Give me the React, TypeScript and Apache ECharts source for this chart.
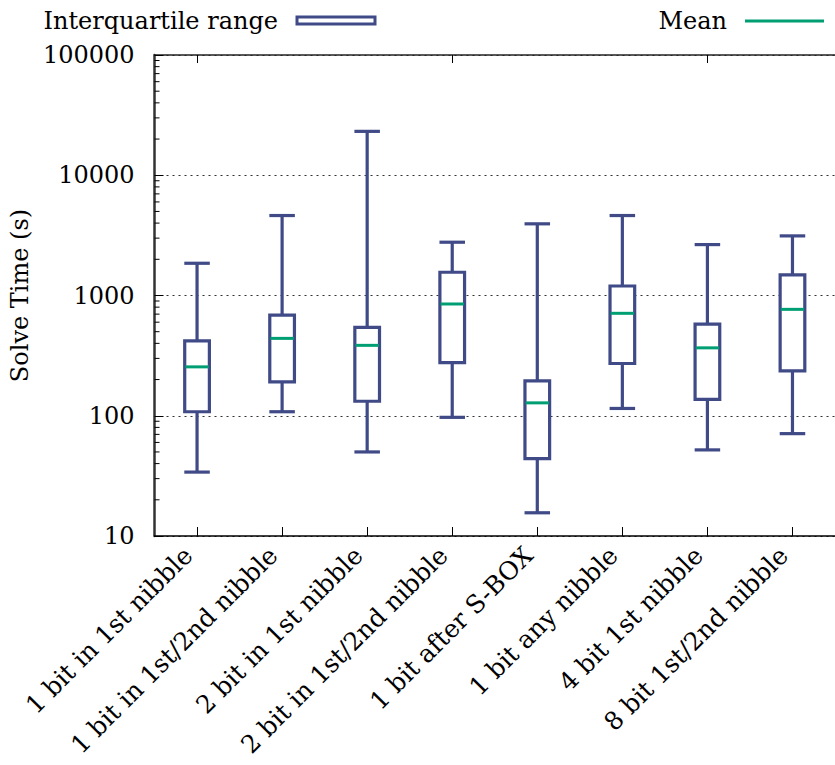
import React, { useEffect, useRef } from "react";
import * as echarts from "echarts";

const categories = [
  "1 bit in 1st nibble",
  "1 bit in 1st/2nd nibble",
  "2 bit in 1st nibble",
  "2 bit in 1st/2nd nibble",
  "1 bit after S-BOX",
  "1 bit any nibble",
  "4 bit 1st nibble",
  "8 bit 1st/2nd nibble",
];
const minValues = [34, 108, 50, 97, 15.6, 115, 52, 71];
const q1Values = [108, 191, 132, 277, 44, 272, 137, 236];
const meanValues = [255, 440, 385, 850, 128, 711, 367, 767];
const q3Values = [420, 688, 543, 1561, 195, 1200, 579, 1482];
const maxValues = [1854, 4624, 23174, 2774, 3945, 4624, 2651, 3131];

const yTickLabels = ["10", "100", "1000", "10000", "100000"];
const minorMultipliers = [2, 3, 4, 5, 6, 7, 8, 9];
const minorDecades = [10, 100, 1000, 10000];

const NAVY = "#3f4a87";
const GREEN = "#009e73";
const FONT = "'DejaVu Serif', 'Liberation Serif', serif";
const FS = 24;
const FS_X = 25;

export default function App() {
  const ref = useRef<HTMLDivElement>(null);
  useEffect(() => {
    if (!ref.current) return;
    const chart = echarts.init(ref.current, null, { renderer: "svg" });
    const boxData = categories.map((_, i) => [
      i,
      minValues[i],
      q1Values[i],
      meanValues[i],
      q3Values[i],
      maxValues[i],
    ]);
    const minorData: number[][] = [];
    minorDecades.forEach((d) => minorMultipliers.forEach((m) => minorData.push([0, d * m])));

    const option: any = {
      animation: false,
      backgroundColor: "#ffffff",
      textStyle: { fontFamily: FONT },
      grid: { left: 148, top: 55, right: -5, bottom: 229, containLabel: false },
      xAxis: [
        {
          type: "category",
          data: categories,
          position: "bottom",
          axisLine: { show: true, lineStyle: { color: "#000", width: 1.5 } },
          axisTick: { show: true, inside: true, length: 9, alignWithLabel: true, lineStyle: { color: "#000", width: 1 } },
          axisLabel: {
            interval: 0,
            rotate: 45,
            margin: 24,
            verticalAlign: "bottom",
            fontFamily: FONT,
            fontSize: FS_X,
            color: "#000",
          },
          splitLine: { show: false },
        },
        {
          type: "category",
          data: categories,
          position: "top",
          axisLine: { show: true, lineStyle: { color: "#222", width: 1.5 } },
          axisTick: { show: true, inside: true, length: 8, alignWithLabel: true, lineStyle: { color: "#000", width: 1 } },
          axisLabel: { show: false },
          splitLine: { show: false },
        },
      ],
      yAxis: {
        type: "log",
        logBase: 10,
        min: 10,
        max: 100000,
        name: "Solve Time (s)",
        nameLocation: "middle",
        nameGap: 100,
        nameTextStyle: { fontFamily: FONT, fontSize: FS, color: "#000" },
        axisLine: { show: true, lineStyle: { color: "#333", width: 2.5 } },
        axisTick: { show: true, inside: true, length: 9, lineStyle: { color: "#000", width: 1 } },
        axisLabel: {
          margin: 20,
          fontFamily: FONT,
          fontSize: FS,
          color: "#000",
          formatter: (v: number) => {
            const s = String(Math.round(v));
            return yTickLabels.includes(s) ? s : "";
          },
        },
        splitLine: { show: true, lineStyle: { type: [2, 4], color: "#333", width: 1.2 } },
      },
      graphic: [
        {
          type: "text",
          x: 278,
          y: 21,
          style: { text: "Interquartile range", fontFamily: FONT, fontSize: FS, fill: "#000", align: "right", verticalAlign: "middle" },
        },
        {
          type: "rect",
          shape: { x: 297, y: 17, width: 78, height: 7 },
          style: { fill: "#fff", stroke: NAVY, lineWidth: 3 },
        },
        {
          type: "text",
          x: 727,
          y: 21,
          style: { text: "Mean", fontFamily: FONT, fontSize: FS, fill: "#000", align: "right", verticalAlign: "middle" },
        },
        {
          type: "line",
          shape: { x1: 745, y1: 21, x2: 824, y2: 21 },
          style: { stroke: GREEN, lineWidth: 3 },
        },
      ],
      series: [
        {
          type: "custom",
          name: "minorTicks",
          xAxisIndex: 0,
          yAxisIndex: 0,
          silent: true,
          clip: false,
          encode: { x: 0, y: 1 },
          data: minorData,
          renderItem: (params: any, api: any) => {
            const cs = params.coordSys;
            const y = api.coord([0, api.value(1)])[1];
            return {
              type: "line",
              shape: { x1: cs.x, y1: y, x2: cs.x + 5, y2: y },
              style: { stroke: "#000", lineWidth: 1 },
            };
          },
        },
        {
          type: "custom",
          name: "boxes",
          xAxisIndex: 0,
          yAxisIndex: 0,
          silent: true,
          encode: { x: 0, y: [1, 2, 3, 4, 5] },
          data: boxData,
          renderItem: (params: any, api: any) => {
            const idx = api.value(0);
            const pMin = api.coord([idx, api.value(1)]);
            const pQ1 = api.coord([idx, api.value(2)]);
            const pMean = api.coord([idx, api.value(3)]);
            const pQ3 = api.coord([idx, api.value(4)]);
            const pMax = api.coord([idx, api.value(5)]);
            const band = api.size([1, 0])[0];
            const cx = pMin[0];
            const half = band * 0.145;
            const capHalf = band * 0.15;
            const meanHalf = band * 0.138;
            const lineStyle = { stroke: NAVY, lineWidth: 3.2 };
            return {
              type: "group",
              children: [
                { type: "line", shape: { x1: cx, y1: pMin[1], x2: cx, y2: pQ1[1] }, style: lineStyle },
                { type: "line", shape: { x1: cx, y1: pQ3[1], x2: cx, y2: pMax[1] }, style: lineStyle },
                { type: "line", shape: { x1: cx - capHalf, y1: pMin[1], x2: cx + capHalf, y2: pMin[1] }, style: lineStyle },
                { type: "line", shape: { x1: cx - capHalf, y1: pMax[1], x2: cx + capHalf, y2: pMax[1] }, style: lineStyle },
                {
                  type: "rect",
                  shape: { x: cx - half, y: pQ3[1], width: half * 2, height: pQ1[1] - pQ3[1] },
                  style: { fill: "#fff", stroke: NAVY, lineWidth: 3.2 },
                },
                {
                  type: "line",
                  shape: { x1: cx - meanHalf, y1: pMean[1], x2: cx + meanHalf, y2: pMean[1] },
                  style: { stroke: GREEN, lineWidth: 3 },
                },
              ],
            };
          },
        },
      ],
    };
    chart.setOption(option);
    return () => chart.dispose();
  }, []);
  return (
    <div
      ref={ref}
      style={{ position: "absolute", left: 0, top: 0, width: 835, height: 765, background: "#fff" }}
    />
  );
}
